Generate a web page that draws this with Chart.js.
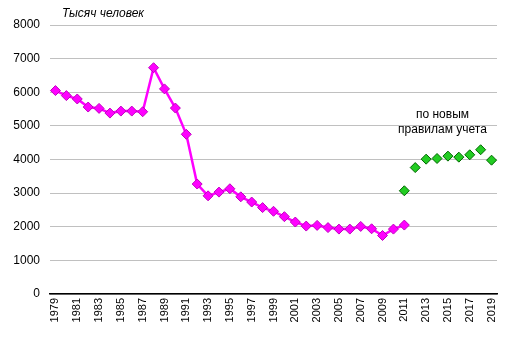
<!DOCTYPE html>
<html><head><meta charset="utf-8">
<script src="https://cdn.jsdelivr.net/npm/chart.js@4"></script>
<style>html,body{margin:0;padding:0;background:#fff}#w{width:511px;height:348px}</style>
</head><body><div id="w"><canvas id="c"></canvas></div>
<script>
const years = [];
for (let y = 1979; y <= 2019; y++) years.push(String(y));
const oldRules = [6050,5900,5800,5560,5520,5380,5440,5440,5420,6730,6100,5530,4750,3270,2920,3030,3130,2890,2735,2570,2460,2300,2140,2020,2040,1975,1930,1930,2010,1940,1740,1930,2050];
const newRules = [3070,3760,4010,4030,4100,4070,4140,4290,3980];
const yTicks = [0,1000,2000,3000,4000,5000,6000,7000,8000];
const unitTitle = 'Тысяч человек';
const noteLines = ['по новым', 'правилам учета'];

const oldData = years.map((y,i) => i < oldRules.length ? oldRules[i] : null);
const newData = years.map((y,i) => { const k = i - (years.length - newRules.length); return k >= 0 ? newRules[k] : null; });

const notePlugin = {
  id: 'note',
  afterDraw(chart) {
    const ctx = chart.ctx, xs = chart.scales.x, ys = chart.scales.y;
    ctx.save();
    ctx.fillStyle = '#000';
    ctx.font = '12px "Liberation Sans", Arial, sans-serif';
    ctx.textAlign = 'center';
    ctx.textBaseline = 'middle';
    const cx = (xs.getPixelForValue(2014 - 1979) + xs.getPixelForValue(2015 - 1979)) / 2;
    ctx.fillText(noteLines[0], cx, ys.getPixelForValue(5330));
    ctx.fillText(noteLines[1], cx, ys.getPixelForValue(4880));
    ctx.font = 'italic 12px "Liberation Sans", Arial, sans-serif';
    ctx.textAlign = 'left';
    ctx.fillText(unitTitle, 62, 14);
    ctx.restore();
  }
};

new Chart(document.getElementById('c'), {
  type: 'line',
  data: {
    labels: years,
    datasets: [
      { data: oldData, borderColor: '#ff00ff', backgroundColor: '#ff00ff', borderWidth: 2.5,
        pointStyle: 'rectRot', pointRadius: 5, pointBorderColor: '#c000c0', pointBackgroundColor: '#ff00ff', pointBorderWidth: 1,
        tension: 0, spanGaps: false },
      { data: newData, showLine: false, borderColor: '#006600', backgroundColor: '#22cc22',
        pointStyle: 'rectRot', pointRadius: 5, pointBorderColor: '#006600', pointBackgroundColor: '#22cc22', pointBorderWidth: 1 }
    ]
  },
  options: {
    responsive: true, maintainAspectRatio: false, animation: false,
    layout: { padding: { top: 25, right: 14, left: 0, bottom: 0 } },
    plugins: { legend: { display: false }, tooltip: { enabled: false } },
    scales: {
      x: {
        offset: true,
        grid: { display: false, drawTicks: false },
        border: { display: true, color: '#000', width: 1.5 },
        ticks: {
          autoSkip: false, maxRotation: 90, minRotation: 90, padding: 4,
          color: '#000', font: { family: '"Liberation Sans", Arial, sans-serif', size: 11 },
          callback: function(v, i) { return i % 2 === 0 ? this.getLabelForValue(v) : ''; }
        },
        afterFit(s) { s.height = 54; }
      },
      y: {
        min: 0, max: 8000,
        afterBuildTicks(s) { s.ticks = yTicks.map(v => ({ value: v })); },
        grid: { color: '#c0c0c0', lineWidth: 1, drawTicks: false },
        border: { display: false },
        ticks: { padding: 10, color: '#000', font: { family: '"Liberation Sans", Arial, sans-serif', size: 12 },
          callback: v => String(v) },
        afterFit(s) { s.width = 50; }
      }
    }
  },
  plugins: [notePlugin]
});
</script>
</body></html>
